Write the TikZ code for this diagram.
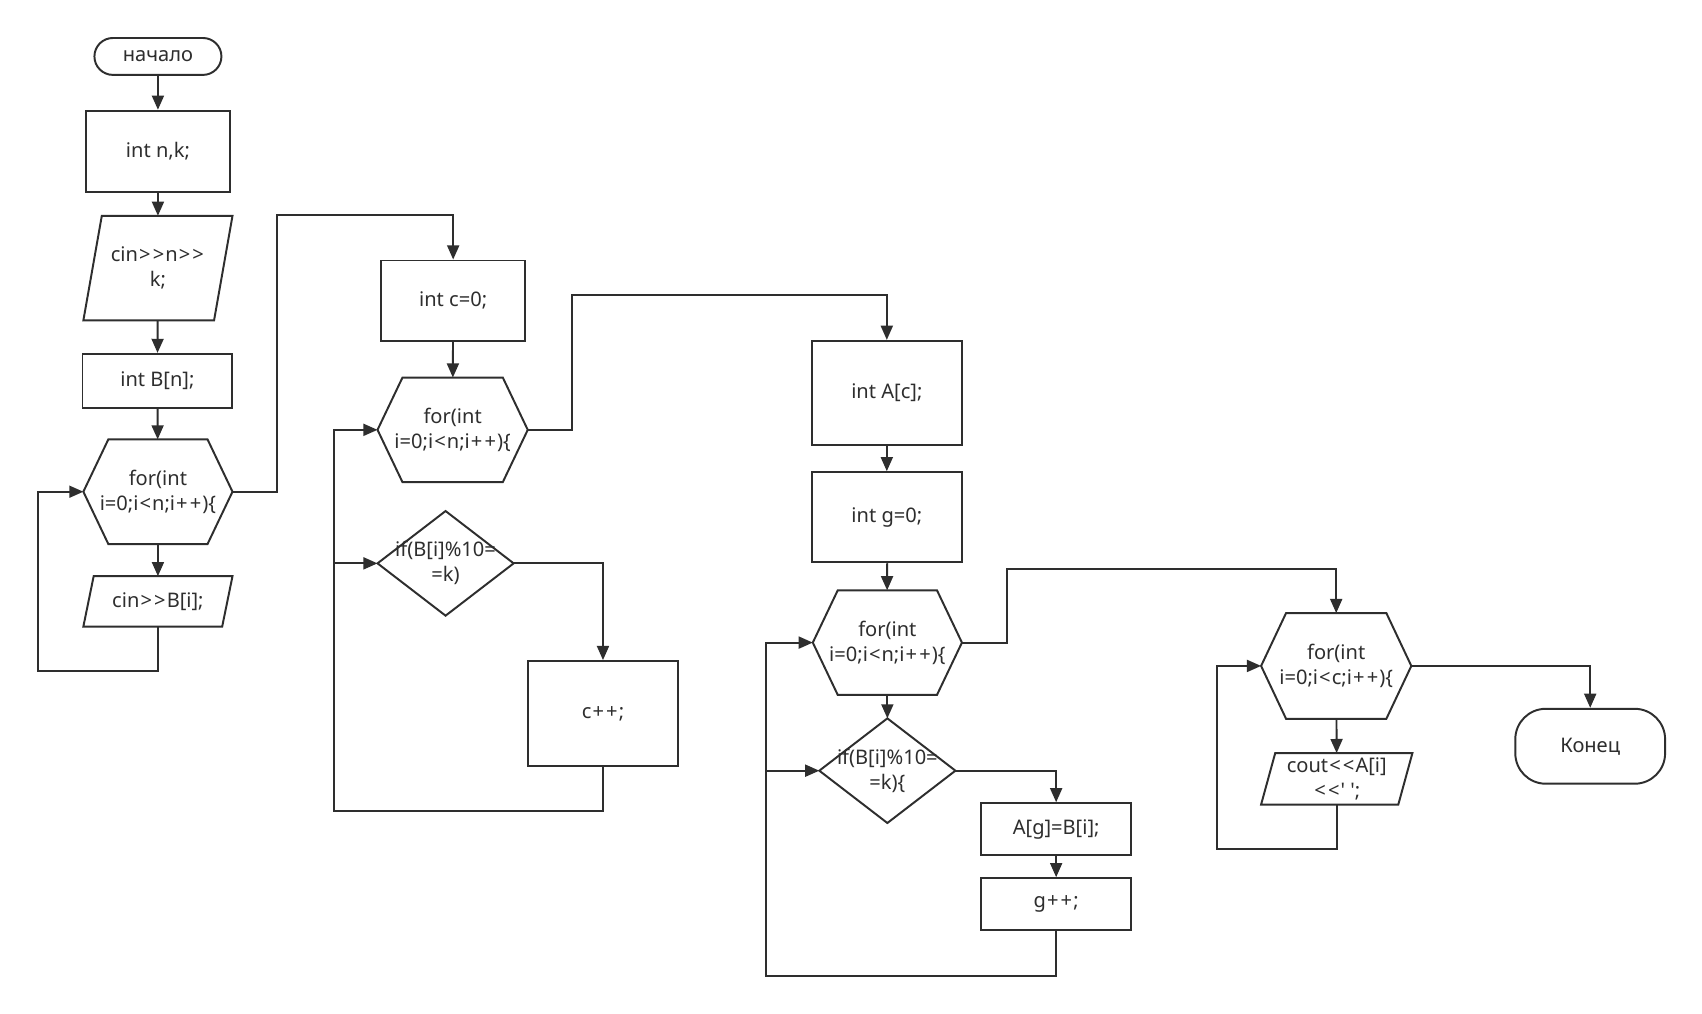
\documentclass[tikz,border=0pt]{standalone}
\usepackage{fontspec}
\newfontfamily\ff{Noto Sans}
\usetikzlibrary{arrows.meta,calc}
\definecolor{lc}{HTML}{2E2E2E}
\newcommand\Lt{\kern1pt<\kern1pt}
\newcommand\Gt{\kern1pt>\kern1pt}
\newcommand\Pl{\kern1pt+\kern1pt}
\begin{document}
\begin{tikzpicture}[x=1pt,y=-1pt,
  every node/.style={font=\ff\fontsize{18.5}{23}\selectfont, text=lc, align=center, inner sep=0pt},
  sz/.style 2 args={minimum width=#1pt, minimum height=#2pt},
  rbox/.style={draw=lc, line width=1.8pt},
  shp/.style={draw=lc, line width=1.8pt, line join=miter},
  arr/.style={draw=lc, line width=1.8pt, -{Triangle[length=13pt,width=11pt]}}
]
\useasboundingbox (0,0) rectangle (1568,934);
\fill[white] (0,0) rectangle (1568,934);

% column 1
\node[rbox, sz={117}{34}, rounded corners=17pt] (start) at (145.5,52) {начало};
\node[rbox, sz={133}{75}] (n1) at (145.5,139.5) {int n,k;};
\node[sz={137}{96}] (p1) at (145.5,247) {cin\Gt\Gt n\Gt\Gt\\k;};
\node[rbox, sz={138}{50}] (b1) at (145,351) {int B[n];};
\node[sz={137}{96}] (f1) at (145.5,453) {for(int\\i=0;i\Lt n;i\Pl\Pl)\{};
\node[sz={137}{46}] (p2) at (145.5,554) {cin\Gt\Gt B[i];};

% column 2
\node[rbox, sz={133}{74}] (c0) at (417.5,277) {int c=0;};
\node[sz={138}{96}] (f2) at (417,396) {for(int\\i=0;i\Lt n;i\Pl\Pl)\{};
\node[sz={125}{96}] (d1) at (410.5,519) {if(B[i]\%10=\\=k)};
\node[rbox, sz={139}{97}] (cpp) at (555.5,657.5) {c\Pl\Pl;};

% column 3
\node[rbox, sz={138}{96}] (a1) at (817,362) {int A[c];};
\node[rbox, sz={138}{83}] (g0) at (817,476.5) {int g=0;};
\node[sz={137}{96}] (f3) at (817.5,592) {for(int\\i=0;i\Lt n;i\Pl\Pl)\{};
\node[sz={125}{96}] (d2) at (817.5,710) {if(B[i]\%10=\\=k)\{};
\node[rbox, sz={138}{48}] (ag) at (973,764) {A[g]=B[i];};
\node[rbox, sz={138}{48}] (gpp) at (973,833) {g\Pl\Pl;};

% column 4
\node[sz={138}{97}] (f4) at (1231,613.5) {for(int\\i=0;i\Lt c;i\Pl\Pl)\{};
\node[sz={139}{47}] (p3) at (1231.5,717.5) {cout\Lt\Lt A[i]\\\Lt\Lt' ';};
\node[rbox, sz={138}{69}, rounded corners=28pt] (end) at (1465,687.5) {Конец};

% shapes
\foreach \n in {f1,f2,f3,f4}{
  \draw[shp] (\n.west) -- ([xshift=23pt]\n.north west) -- ([xshift=-23pt]\n.north east) -- (\n.east) -- ([xshift=-23pt]\n.south east) -- ([xshift=23pt]\n.south west) -- cycle;
}
\foreach \n/\s in {p1/17,p2/9.5,p3/13}{
  \draw[shp] (\n.south west) -- ([xshift=\s pt]\n.north west) -- (\n.north east) -- ([xshift=-\s pt]\n.south east) -- cycle;
}
\foreach \n in {d1,d2}{
  \draw[shp] (\n.west) -- (\n.north) -- (\n.east) -- (\n.south) -- cycle;
}

% connectors column 1
\draw[arr] (start) -- (n1);
\draw[arr] (n1) -- (p1);
\draw[arr] (p1) -- (b1);
\draw[arr] (b1) -- (f1);
\draw[arr] (f1) -- (p2);
\draw[arr] (p2.south) |- (35,618) |- (f1.west);
\draw[arr] (f1.east) -| (255,198) -| (c0.north);

% column 2
\draw[arr] (c0) -- (f2);
\draw[arr] (d1.east) -| (cpp.north);
\draw[arr] (cpp.south) |- (308,747) |- (f2.west);
\draw[arr] (308,519) -- (d1.west);
\draw[arr] (f2.east) -| (527,272) -| (a1.north);

% column 3
\draw[arr] (a1) -- (g0);
\draw[arr] (g0) -- (f3);
\draw[arr] (f3) -- (d2);
\draw[arr] (d2.east) -| (ag.north);
\draw[arr] (ag) -- (gpp);
\draw[arr] (gpp.south) |- (706,899) |- (f3.west);
\draw[arr] (706,710) -- (d2.west);
\draw[arr] (f3.east) -| (928,524) -| (f4.north);

% column 4
\draw[arr] (f4) -- (p3);
\draw[arr] (p3.south) |- (1121,782) |- (f4.west);
\draw[arr] (f4.east) -| (end.north);
\end{tikzpicture}
\end{document}
